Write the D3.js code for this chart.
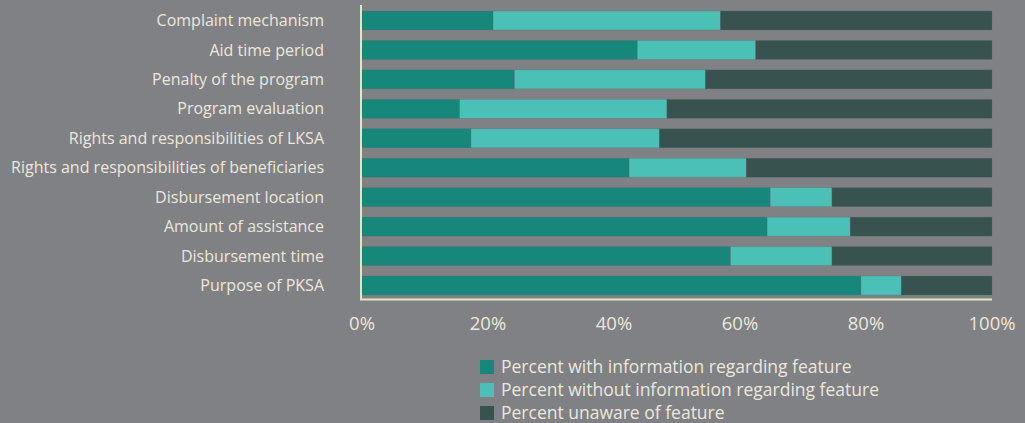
<!DOCTYPE html>
<html>
<head>
<meta charset="utf-8">
<script src="https://cdn.jsdelivr.net/npm/d3@7"></script>
<style>
  html, body { margin: 0; padding: 0; background: #808185; }
  svg { display: block; font-family: "Open Sans", "Noto Sans", sans-serif; }
</style>
</head>
<body>
<div id="chart"></div>
<script>
const categories = [
  "Complaint mechanism",
  "Aid time period",
  "Penalty of the program",
  "Program evaluation",
  "Rights and responsibilities of LKSA",
  "Rights and responsibilities of beneficiaries",
  "Disbursement location",
  "Amount of assistance",
  "Disbursement time",
  "Purpose of PKSA"
];
const withInfo    = [20.8, 43.7, 24.2, 15.5, 17.3, 42.4, 64.8, 64.3, 58.5, 79.2];
const withoutInfo = [36.1, 18.8, 30.3, 32.9, 29.9, 18.6,  9.8, 13.2, 16.1,  6.4];
const unaware     = [43.1, 37.5, 45.5, 51.6, 52.8, 39.0, 25.4, 22.5, 25.4, 14.4];
const seriesNames = [
  "Percent with information regarding feature",
  "Percent without information regarding feature",
  "Percent unaware of feature"
];
const xTicks = [0, 20, 40, 60, 80, 100];

const colors = ["#17877b", "#4bc0b6", "#37524f"];
const textColor = "#ece7da";

const W = 1025, H = 423;
const svg = d3.select("#chart").append("svg")
  .attr("width", W).attr("height", H)
  .style("background", "#808185");

const x = d3.scaleLinear().domain([0, 100]).range([362, 992]);
const y = d3.scaleBand().domain(categories).range([11, 295]).paddingInner(0.355).paddingOuter(0);

const rows = categories.map((c, i) => ({ cat: c, vals: [withInfo[i], withoutInfo[i], unaware[i]] }));
const stacked = d3.stack().keys([0, 1, 2]).value((d, k) => d.vals[k])(rows);

svg.append("g").selectAll("g")
  .data(stacked)
  .join("g")
  .attr("fill", (_, i) => colors[i])
  .selectAll("rect")
  .data(d => d)
  .join("rect")
  .attr("x", d => x(d[0]))
  .attr("width", d => x(d[1]) - x(d[0]))
  .attr("y", d => y(d.data.cat))
  .attr("height", y.bandwidth())
  .attr("stroke", "rgba(90,110,110,0.5)")
  .attr("stroke-width", 0.6);

// axis lines
svg.append("line")
  .attr("x1", 361).attr("x2", 361).attr("y1", 5).attr("y2", 300)
  .attr("stroke", "#dfe8c0").attr("stroke-width", 2);
svg.append("line")
  .attr("x1", 360).attr("x2", x(100)).attr("y1", 299.5).attr("y2", 299.5)
  .attr("stroke", "#dfe8c0").attr("stroke-width", 2);

// category labels
svg.append("g").selectAll("text")
  .data(categories)
  .join("text")
  .attr("x", 324)
  .attr("y", d => y(d) + y.bandwidth() / 2)
  .attr("dy", "0.35em")
  .attr("text-anchor", "end")
  .attr("fill", textColor)
  .style("font-size", "16px")
  .text(d => d);

// tick labels
svg.append("g").selectAll("text")
  .data(xTicks)
  .join("text")
  .attr("x", d => x(d))
  .attr("y", 330)
  .attr("text-anchor", "middle")
  .attr("fill", textColor)
  .style("font-size", "18.5px")
  .text(d => d + "%");

// legend
const leg = svg.append("g").attr("transform", "translate(480,360)");
const li = leg.selectAll("g").data(seriesNames).join("g")
  .attr("transform", (_, i) => `translate(0,${i * 23})`);
li.append("rect").attr("width", 14).attr("height", 14).attr("fill", (_, i) => colors[i]);
li.append("text").attr("x", 21).attr("y", 7).attr("dy", "0.35em")
  .attr("fill", textColor).style("font-size", "17.5px").text(d => d);
</script>
</body>
</html>
